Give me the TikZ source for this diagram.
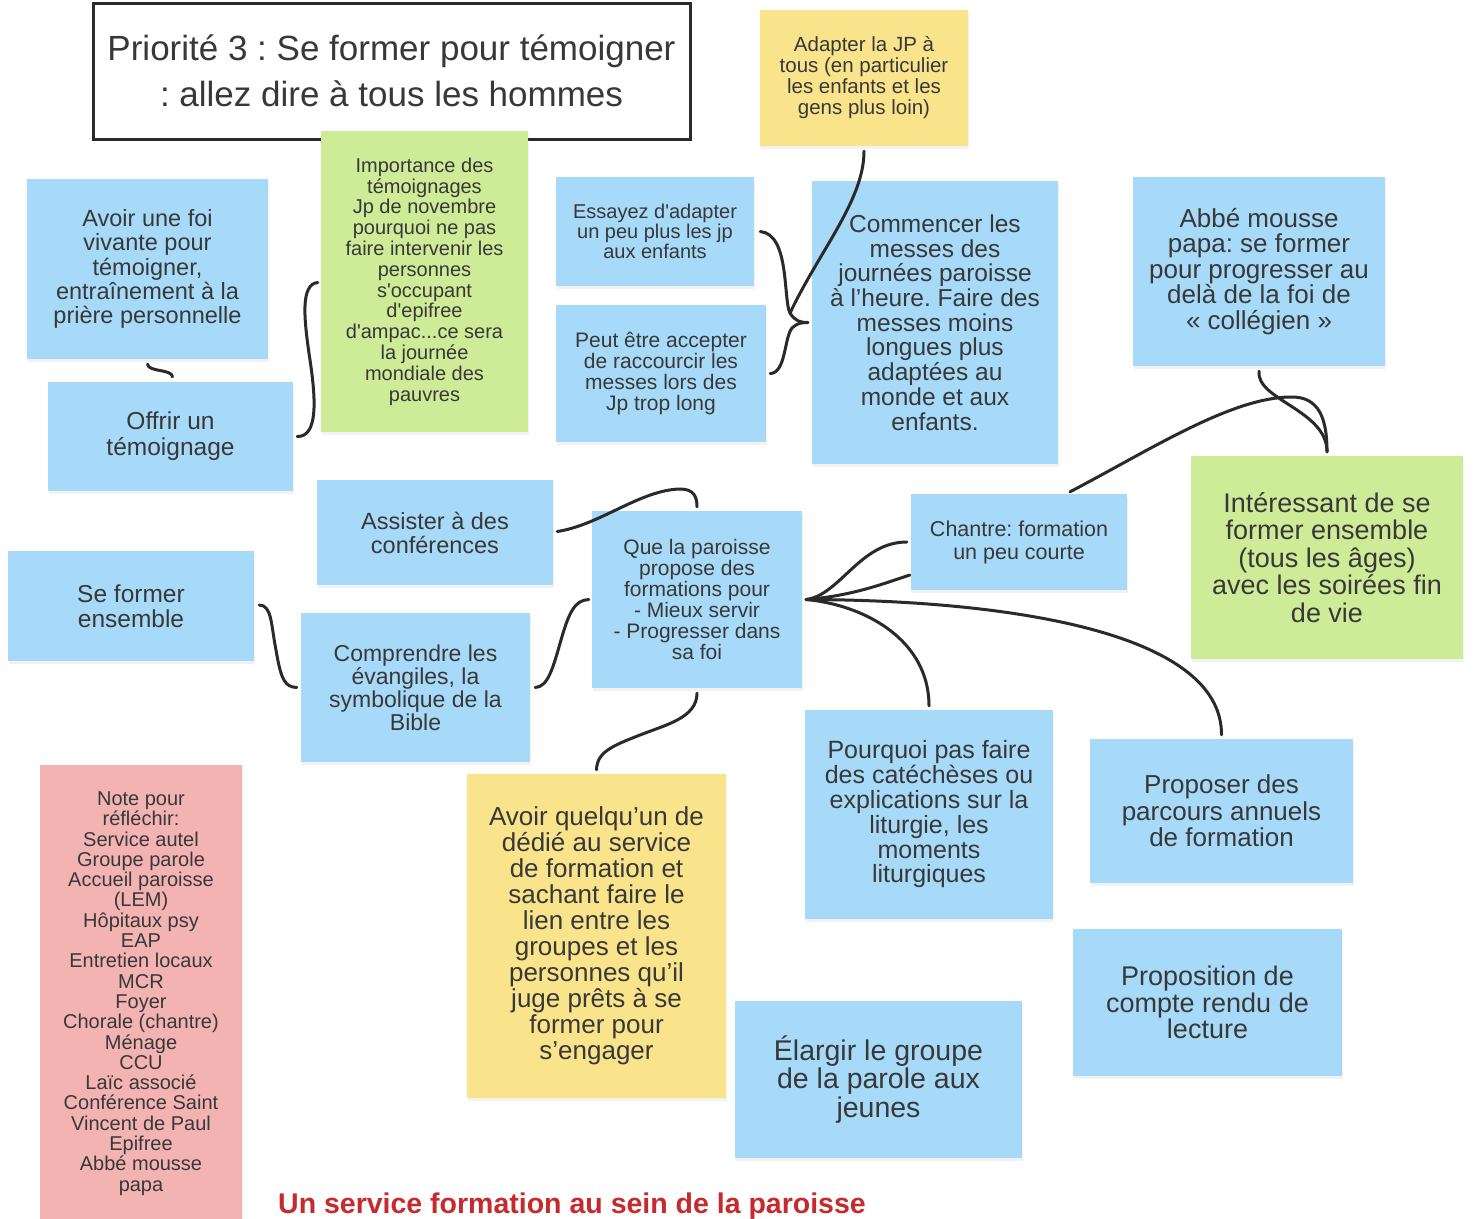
\documentclass[tikz,border=0pt]{standalone}
\usepackage{fontspec}
\setmainfont{Liberation Sans}
\usetikzlibrary{shadows,calc}
\frenchspacing
\definecolor{bl}{HTML}{A7DAF8}
\definecolor{gr}{HTML}{CEEC98}
\definecolor{ye}{HTML}{F9E48B}
\definecolor{pk}{HTML}{F3B3B3}
\definecolor{rd}{HTML}{C62A2C}
\definecolor{txt}{HTML}{383838}
\definecolor{ln}{HTML}{2A2A2A}
\newcommand\fsz[2]{\fontsize{#1}{#2}\selectfont}
\tikzset{
  note/.style={rectangle, inner sep=0pt, align=center, text=txt,
    drop shadow={shadow xshift=1pt, shadow yshift=-2.5pt, opacity=0.10}},
  conn/.style={line width=3pt, draw=ln, line cap=round},
}
\begin{document}
\begin{tikzpicture}[x=1pt,y=-1pt]
\useasboundingbox (0,0) rectangle (1474,1218);
\fill[white] (0,0) rectangle (1474,1218);

% title
\node[rectangle, draw=ln, line width=3pt, fill=white, inner sep=0pt, align=center, text=txt,
  minimum width=597, minimum height=136, font=\fsz{35}{46}] (title) at (391.5,71)
  {Priorité 3 : Se former pour témoigner\\: allez dire à tous les hommes};

\node[note, fill=ye, minimum width=208, minimum height=136, font=\fsz{20.5}{21}] (adapt) at (864,78)
  {Adapter la JP à\\tous (en particulier\\les enfants et les\\gens plus loin)};

\node[note, fill=gr, minimum width=207, minimum height=301, font=\fsz{20}{20.8}] (imp) at (424.5,281.5)
  {Importance des\\témoignages\\Jp de novembre\\pourquoi ne pas\\faire intervenir les\\personnes\\s\textquotesingle occupant\\d\textquotesingle epifree\\d\textquotesingle ampac...ce sera\\la journée\\mondiale des\\pauvres};

\node[note, fill=bl, minimum width=241, minimum height=180, font=\fsz{23.5}{24.3}] (foi) at (147.5,269)
  {Avoir une foi\\vivante pour\\témoigner,\\entraînement à la\\prière personnelle};

\node[note, fill=bl, minimum width=245, minimum height=109, font=\fsz{24.5}{26}] (offrir) at (170.5,436.5)
  {Offrir un\\témoignage};

\node[note, fill=bl, minimum width=198, minimum height=109, font=\fsz{20}{20}] (essayez) at (655,231.5)
  {Essayez d\textquotesingle adapter\\un peu plus les jp\\aux enfants};

\node[note, fill=bl, minimum width=210, minimum height=137, font=\fsz{21}{21}] (peut) at (661,373.5)
  {Peut être accepter\\de raccourcir les\\messes lors des\\Jp trop long};

\node[note, fill=bl, minimum width=246, minimum height=283, font=\fsz{24.5}{24.7}] (commencer) at (935,322.5)
  {Commencer les\\messes des\\journées paroisse\\à l’heure. Faire des\\messes moins\\longues plus\\adaptées au\\monde et aux\\enfants.};

\node[note, fill=bl, minimum width=252, minimum height=189, font=\fsz{26}{25.5}] (abbe) at (1259,271.5)
  {Abbé mousse\\papa: se former\\pour progresser au\\delà de la foi de\\«~collégien~»};

\node[note, fill=gr, minimum width=272, minimum height=203, font=\fsz{27}{27.5}] (interessant) at (1327,557.5)
  {Intéressant de se\\former ensemble\\(tous les âges)\\avec les soirées fin\\de vie};

\node[note, fill=bl, minimum width=236, minimum height=105, font=\fsz{23.5}{24}] (assister) at (435,532.5)
  {Assister à des\\conférences};

\node[note, fill=bl, minimum width=246, minimum height=110, font=\fsz{24.5}{25}] (seformer) at (131,606)
  {Se former\\ensemble};

\node[note, fill=bl, minimum width=229, minimum height=149, font=\fsz{23}{23}] (comprendre) at (415.5,687.5)
  {Comprendre les\\évangiles, la\\symbolique de la\\Bible};

\node[note, fill=bl, minimum width=210, minimum height=177, font=\fsz{21}{21}] (que) at (697,599.5)
  {Que la paroisse\\propose des\\formations pour\\- Mieux servir\\- Progresser dans\\sa foi};

\node[note, fill=bl, minimum width=216, minimum height=96, font=\fsz{21.5}{23}] (chantre) at (1019,542)
  {Chantre: formation\\un peu courte};

\node[note, fill=bl, minimum width=248, minimum height=209, font=\fsz{25}{24.8}] (pourquoi) at (929,814.5)
  {Pourquoi pas faire\\des catéchèses ou\\explications sur la\\liturgie, les\\moments\\liturgiques};

\node[note, fill=bl, minimum width=263, minimum height=144, font=\fsz{26}{26.5}] (parcours) at (1221.5,811)
  {Proposer des\\parcours annuels\\de formation};

\node[note, fill=bl, minimum width=269, minimum height=147, font=\fsz{27}{26.5}] (compte) at (1207.5,1002.5)
  {Proposition de\\compte rendu de\\lecture};

\node[note, fill=ye, minimum width=259, minimum height=324, font=\fsz{26}{26}] (quelquun) at (596.5,936)
  {Avoir quelqu’un de\\dédié au service\\de formation et\\sachant faire le\\lien entre les\\groupes et les\\personnes qu’il\\juge prêts à se\\former pour\\s’engager};

\node[note, fill=bl, minimum width=287, minimum height=157, font=\fsz{28.5}{28.5}] (elargir) at (878.5,1079.5)
  {Élargir le groupe\\de la parole aux\\jeunes};

\node[note, fill=pk, minimum width=202, minimum height=457, font=\fsz{20}{20.3}] (notes) at (141,993.5)
  {Note pour\\réfléchir:\\Service autel\\Groupe parole\\Accueil paroisse\\(LEM)\\Hôpitaux psy\\EAP\\Entretien locaux\\MCR\\Foyer\\Chorale (chantre)\\Ménage\\CCU\\Laïc associé\\Conférence Saint\\Vincent de Paul\\Epifree\\Abbé mousse\\papa};

\node[inner sep=0pt, text=rd, font=\fsz{28.5}{30}\bfseries] (red) at (572,1206)
  {Un service formation au sein de la paroisse};

% connectors
\draw[conn] ($(foi.south)+(0,5)$) .. controls +(1,8) and +(-1,-8) .. ($(offrir.north)+(2,-5)$);
\draw[conn] ($(offrir.east)+(4,0)$) .. controls (318,437) and (316,400) .. (310,360)
  .. controls (304,320) and (300,284) .. ($(imp.west)+(-3,1)$);

\coordinate (tip) at ($(commencer.west)+(-4,0)$);
\coordinate (bj) at (790,313);
\draw[conn] ($(essayez.east)+(6,0)$) .. controls (790,234) and (783,300) .. (bj)
  .. controls (795,321) and (800,322.5) .. (tip);
\draw[conn] ($(peut.east)+(4,0)$) .. controls (786,373) and (784,338) .. (792,328)
  .. controls (797,323) and (802,322.5) .. (tip);
\draw[conn] ($(adapt.south)+(0,5)$) .. controls (864,200) and (820,250) .. (bj);

\draw[conn] ($(abbe.south)+(0,5)$) .. controls (1256,400) and (1327,410) .. ($(interessant.north)+(0,-4)$);
\draw[conn] ($(chantre.north)+(51,-2)$) .. controls (1150,450) and (1230,398) .. (1290,397)
  .. controls (1320,396) and (1327,420) .. ($(interessant.north)+(0,-4)$);

\draw[conn] ($(assister.east)+(4,-1)$) .. controls (600,525) and (640,490) .. (680,489)
  .. controls (694,489) and (697,497) .. ($(que.north)+(0,-4)$);
\draw[conn] ($(seformer.east)+(5,-1)$) .. controls (272,605) and (271,625) .. (276,650)
  .. controls (281,680) and (285,687) .. ($(comprendre.west)+(-4,0)$);
\draw[conn] ($(comprendre.east)+(5,0)$) .. controls (548,687) and (553,668) .. (561,640)
  .. controls (569,612) and (575,600) .. ($(que.west)+(-3,0)$);
\draw[conn] ($(que.south)+(0,5)$) .. controls (697,718) and (665,725) .. (640,735)
  .. controls (612,746) and (597,752) .. ($(quelquun.north)+(0,-4)$);

\coordinate (hub) at ($(que.east)+(4,0)$);
\draw[conn] (hub) .. controls (840,595) and (860,542) .. ($(chantre.west)+(-4,0)$);
\draw[conn] (hub) .. controls (850,596) and (880,585) .. ($(chantre.west)+(-1,33)$);
\draw[conn] (hub) .. controls (865,605) and (929,640) .. ($(pourquoi.north)+(0,-4)$);
\draw[conn] (hub) .. controls (1000,600) and (1222,630) .. ($(parcours.north)+(0,-4)$);
\end{tikzpicture}
\end{document}
